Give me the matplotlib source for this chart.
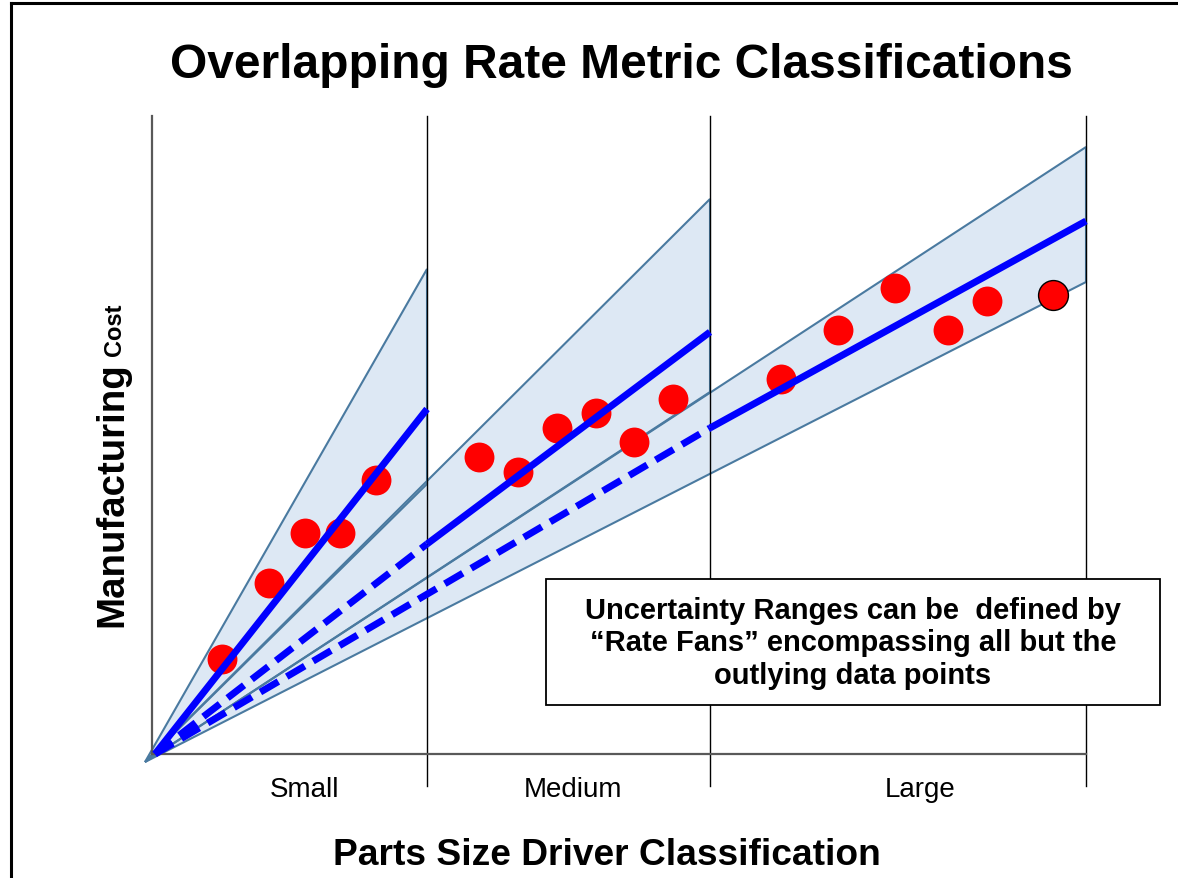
import numpy as np
import matplotlib
matplotlib.use("Agg")
import matplotlib.pyplot as plt
from matplotlib.lines import Line2D
from matplotlib.patches import Rectangle

plt.rcParams['font.family'] = ['Liberation Sans', 'DejaVu Sans']

# size classes and their boundaries along the size axis
classes = ['Small', 'Medium', 'Large']
bounds = [0.0, 2.75, 5.58, 9.34]
label_x = [1.53, 4.21, 7.68]

# rate fan edges: cost reached at the right boundary of each class
fan_top = [4.85, 5.55, 6.07]
fan_bottom = [2.70, 3.62, 4.72]
fan_apex = (-0.07, -0.08)

# rate lines: cost where the solid part starts / ends
rate_origin = (0.03, 0.0)
rate_start = [0.0, 2.10, 3.26]
rate_end = [3.45, 4.22, 5.33]

# observed parts
small_size = [0.70, 1.17, 1.53, 1.88, 2.24]
small_cost = [0.95, 1.71, 2.21, 2.21, 2.74]
medium_size = [3.27, 3.66, 4.05, 4.44, 4.82, 5.21]
medium_cost = [2.97, 2.82, 3.26, 3.41, 3.12, 3.55]
large_size = [6.29, 6.86, 7.43, 7.96, 8.35]
large_cost = [3.75, 4.24, 4.66, 4.24, 4.53]
outlier_size = [9.01]
outlier_cost = [4.59]

FAN_FILL = '#dde8f4'
FAN_EDGE = '#4a7aa0'
RATE_BLUE = '#0000ff'

W, H = 1178, 879
fig = plt.figure(figsize=(W / 100, H / 100), dpi=100)
ax = fig.add_axes([152 / W, 124 / H, 934 / W, 638 / H])
ax.set_xlim(0, 9.34)
ax.set_ylim(0, 6.38)
ax.axis('off')

# fans: fills first, edges after so overlaps stay flat
for i in range(3):
    xs = [fan_apex[0], bounds[i + 1], bounds[i + 1]]
    ys = [fan_apex[1], fan_top[i], fan_bottom[i]]
    ax.fill(xs, ys, facecolor=FAN_FILL, edgecolor='none', zorder=1, clip_on=False)
for i in range(3):
    xs = [fan_apex[0], bounds[i + 1], bounds[i + 1]]
    ys = [fan_apex[1], fan_top[i], fan_bottom[i]]
    ax.fill(xs, ys, facecolor='none', edgecolor=FAN_EDGE, lw=1.5, zorder=2, clip_on=False)

# class dividers and axis lines
for b in bounds[1:]:
    ax.plot([b, b], [-0.32, 6.38], color='black', lw=1.0, zorder=3, clip_on=False)
ax.plot([0, 0], [0, 6.38], color='#595959', lw=1.6, zorder=3, clip_on=False)
ax.plot([0, bounds[-1]], [0, 0], color='#595959', lw=1.6, zorder=3, clip_on=False)

# data points
for xs, ys in [(small_size, small_cost), (medium_size, medium_cost), (large_size, large_cost)]:
    ax.plot(xs, ys, 'o', color='red', markersize=21.5, markeredgewidth=0, zorder=4, clip_on=False)
ax.plot(outlier_size, outlier_cost, 'o', color='red', markersize=21.5,
        markeredgecolor='black', markeredgewidth=1.0, zorder=4, clip_on=False)

# rate lines
for i in range(3):
    if i > 0:
        ax.plot([rate_origin[0], bounds[i]], [rate_origin[1], rate_start[i]], color=RATE_BLUE,
                lw=5, dashes=(3, 1.4), dash_capstyle='butt', zorder=5, clip_on=False)
        x0, y0 = bounds[i], rate_start[i]
    else:
        x0, y0 = rate_origin
    ax.plot([x0, bounds[i + 1]], [y0, rate_end[i]], color=RATE_BLUE, lw=5,
            solid_capstyle='butt', zorder=5, clip_on=False)

# class labels
for x, name in zip(label_x, classes):
    ax.text(x, -0.35, name, ha='center', va='center', fontsize=20)

# annotation box
ax.add_patch(Rectangle((3.94, 0.49), 6.14, 1.26, facecolor='white', edgecolor='black',
                       lw=1.3, zorder=6, clip_on=False))
ax.text(7.01, 1.115,
        'Uncertainty Ranges can be  defined by\n\u201cRate Fans\u201d encompassing all but the\noutlying data points',
        ha='center', va='center', multialignment='center', fontsize=21, weight='bold',
        linespacing=1.21, zorder=7)

# titles
fig.text(621 / W, 1 - 66 / H, 'Overlapping Rate Metric Classifications',
         ha='center', va='center', fontsize=34.5, weight='bold')
fig.text(607 / W, 1 - 856 / H, 'Parts Size Driver Classification',
         ha='center', va='center', fontsize=26.7, weight='bold')
fig.text(122 / W, 1 - 627 / H, 'Manufacturing', rotation=90, rotation_mode='anchor',
         ha='left', va='baseline', fontsize=27.6, weight='bold')
fig.text(121 / W, 1 - 356 / H, 'Cost', rotation=90, rotation_mode='anchor',
         ha='left', va='baseline', fontsize=17, weight='bold')

# slide frame (top and left edges)
fig.add_artist(Line2D([11 / W, 1], [1 - 4 / H, 1 - 4 / H], color='black', lw=2.2))
fig.add_artist(Line2D([11 / W, 11 / W], [0, 1 - 4 / H], color='black', lw=2.2))

fig.savefig('out.png', dpi=100)
